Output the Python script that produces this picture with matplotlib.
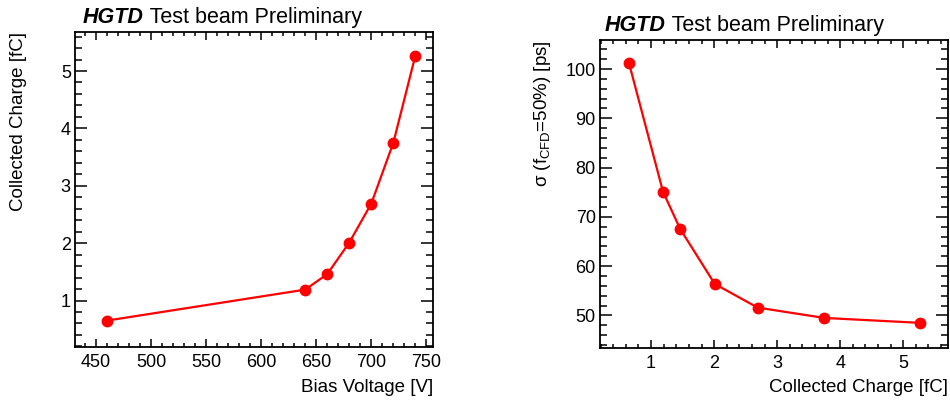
import matplotlib
matplotlib.use("Agg")
import matplotlib.pyplot as plt
from matplotlib.ticker import MultipleLocator

plt.rcParams["font.family"] = ["Liberation Sans", "DejaVu Sans"]
plt.rcParams["mathtext.fontset"] = "custom"
plt.rcParams["mathtext.rm"] = "Liberation Sans"

# data
bias_voltage = [460, 640, 660, 680, 700, 720, 740]
collected_charge = [0.65, 1.19, 1.46, 2.01, 2.69, 3.75, 5.27]
time_resolution = [101.2, 75.1, 67.6, 56.4, 51.6, 49.5, 48.5]

W, H = 950, 401
fig = plt.figure(figsize=(W / 100, H / 100), dpi=100)


def px_axes(x0, y0, x1, y1):
    return fig.add_axes([x0 / W, 1 - y1 / H, (x1 - x0) / W, (y1 - y0) / H])


def style(ax, xmaj, xmin, ymaj, ymin):
    ax.xaxis.set_major_locator(MultipleLocator(xmaj))
    ax.xaxis.set_minor_locator(MultipleLocator(xmin))
    ax.yaxis.set_major_locator(MultipleLocator(ymaj))
    ax.yaxis.set_minor_locator(MultipleLocator(ymin))
    ax.tick_params(which="both", direction="in", top=True, right=True,
                   labelsize=13, width=1.1, color="black")
    ax.tick_params(axis="x", which="major", length=5.8, pad=5)
    ax.tick_params(axis="x", which="minor", length=2.9)
    ax.tick_params(axis="y", which="major", length=8.6, pad=3)
    ax.tick_params(axis="y", which="minor", length=4.7)
    for s in ax.spines.values():
        s.set_linewidth(1.3)


def title(ax, x0, y0):
    t1 = ax.text(x0, y0, "HGTD", transform=ax.transAxes, fontsize=15.5,
                 fontweight="bold", fontstyle="italic", va="bottom", ha="left")
    ax.annotate(" Test beam Preliminary", xy=(1, 0), xycoords=t1,
                fontsize=15.5, va="bottom", ha="left")


# left: collected charge vs bias voltage
ax1 = px_axes(75, 32, 433, 347)
ax1.plot(bias_voltage, collected_charge, "-o", color="red", lw=1.6, ms=7.5)
ax1.set_xlim(431, 756)
ax1.set_ylim(0.19, 5.68)
style(ax1, 50, 10, 1, 0.2)
ax1.set_xlabel("Bias Voltage [V]", fontsize=13.5, loc="right")
ax1.xaxis.set_label_coords(1.0, -0.1)
ax1.set_ylabel("Collected Charge [fC]", fontsize=13.5, loc="top")
ax1.yaxis.set_label_coords(-0.133, 1.0)
title(ax1, 0.022, 1.012)

# right: time resolution vs collected charge
ax2 = px_axes(600, 40, 948, 348)
ax2.plot(collected_charge, time_resolution, "-o", color="red", lw=1.6, ms=7.5)
ax2.set_xlim(0.19, 5.71)
ax2.set_ylim(43.4, 105.9)
style(ax2, 1, 0.2, 10, 2)
ax2.set_xlabel("Collected Charge [fC]", fontsize=13.5, loc="right")
ax2.xaxis.set_label_coords(1.0, -0.102)
ax2.set_ylabel(r"σ (f$_{\mathrm{CFD}}$=50%) [ps]", fontsize=13.5, loc="top")
ax2.yaxis.set_label_coords(-0.135, 1.0)
title(ax2, 0.014, 1.012)

fig.savefig("out.png", dpi=100)
plt.close(fig)
